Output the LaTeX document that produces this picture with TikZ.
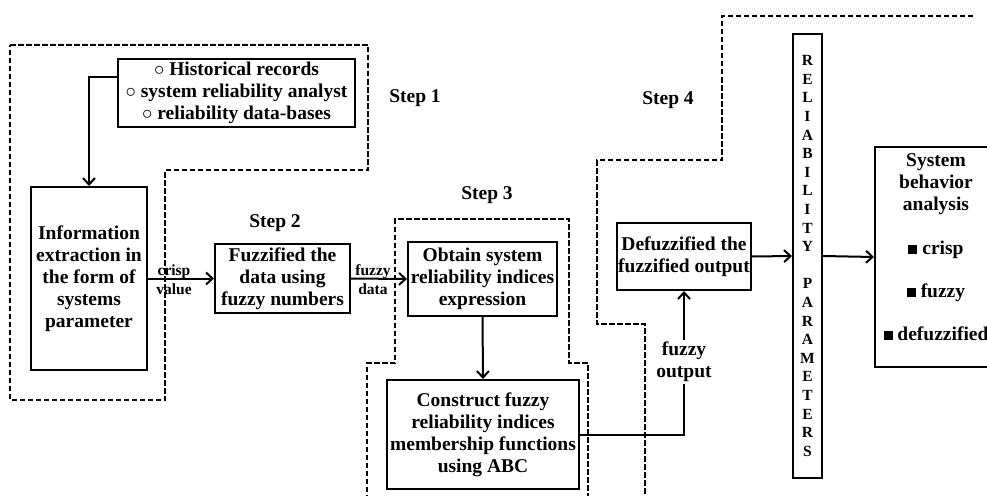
\documentclass[tikz,border=0pt]{standalone}
\usepackage{fontspec}
\setmainfont{Liberation Serif}
\usetikzlibrary{arrows.meta}
\newcommand\blksq{\rule[0.5pt]{9pt}{9pt}}
\begin{document}
\begin{tikzpicture}[x=1pt,y=-1pt,
  box/.style={draw,line width=2pt,inner sep=0pt,align=center,
    font=\bfseries\fontsize{19.5}{22}\selectfont},
  zone/.style={draw,line width=2.6pt,dash pattern=on 5.5pt off 2.5pt},
  flow/.style={line width=2pt,-{Straight Barb[length=6.5pt,width=12pt,line width=2pt]}},
  lbl/.style={font=\bfseries\fontsize{19.5}{22}\selectfont,align=center,inner sep=1pt},
  small/.style={font=\bfseries\fontsize{15.5}{19.5}\selectfont,align=center,inner sep=0pt}]
\clip (0,0) rectangle (987,495);

% dashed step regions
\draw[zone] (10,45) -- (368,45) -- (368,170) -- (165,170) -- (165,400) -- (10,400) -- cycle;
\draw[zone] (367,500) -- (367,363) -- (395,363) -- (395,219) -- (569,219) -- (569,363) -- (588,363) -- (588,500);
\draw[zone] (973,16) -- (722,16) -- (722,160) -- (597,160) -- (597,324) -- (645,324) -- (645,500);

% step labels
\node[lbl] (s1) at (415,98) {Step 1};
\node[lbl] (s2) at (275,223) {Step 2};
\node[lbl] (s3) at (487,195) {Step 3};
\node[lbl] (s4) at (668,100) {Step 4};

% boxes
\node[box,minimum width=237pt,minimum height=68pt] (src) at (236.5,93)
  {$\circ$ Historical records\\$\circ$ system reliability analyst\\$\circ$ reliability data-bases};
\node[box,minimum width=116pt,minimum height=183pt] (info) at (89,278.5)
  {Information\\extraction in\\the form of\\systems\\parameter};
\node[box,minimum width=135pt,minimum height=69pt] (fuzz) at (282.5,278.5)
  {Fuzzified the\\data using\\fuzzy numbers};
\node[box,minimum width=149pt,minimum height=74pt] (obt) at (482.5,279)
  {Obtain system\\reliability indices\\expression};
\node[box,minimum width=192pt,minimum height=109pt] (cons) at (483,434.5)
  {Construct fuzzy\\reliability indices\\membership functions\\using ABC};
\node[box,minimum width=134pt,minimum height=67pt] (defz) at (684,256.5)
  {Defuzzified the\\fuzzified output};
\node[box,minimum width=29pt,minimum height=444pt,
  font=\bfseries\fontsize{15.5}{18.6}\selectfont] (rel) at (807.5,256)
  {R\\E\\L\\I\\A\\B\\I\\L\\I\\T\\Y\\[18.6pt]P\\A\\R\\A\\M\\E\\T\\E\\R\\S};
\node[box,minimum width=140pt,minimum height=220pt] (sys) at (945,257) {};
\node[lbl,inner sep=0pt] (systxt) at (936,247)
  {System\\behavior\\analysis\\[22pt]\blksq\ crisp\\[21pt]\blksq\ fuzzy\\[21pt]\blksq\ defuzzified};

% connectors
\draw[flow] ([yshift=16pt]src.west) -| (info.north);
\draw[flow] (info.east) -- (fuzz.west);
\node[small] (crisp) at (174,279.5) {crisp\\value};
\draw[flow] (fuzz.east) -- (obt.west);
\node[small] (fdata) at (373,279.5) {fuzzy\\data};
\draw[flow] (obt.south) -- (cons.north);
\draw[flow] (cons.east) -| (defz.south);
\node[lbl,fill=white,inner sep=2pt] (fout) at (684,362) {fuzzy\\output};
\draw[flow] (defz.east) -- (rel.west);
\draw[flow] (rel.east) -- (sys.west);
\end{tikzpicture}
\end{document}
